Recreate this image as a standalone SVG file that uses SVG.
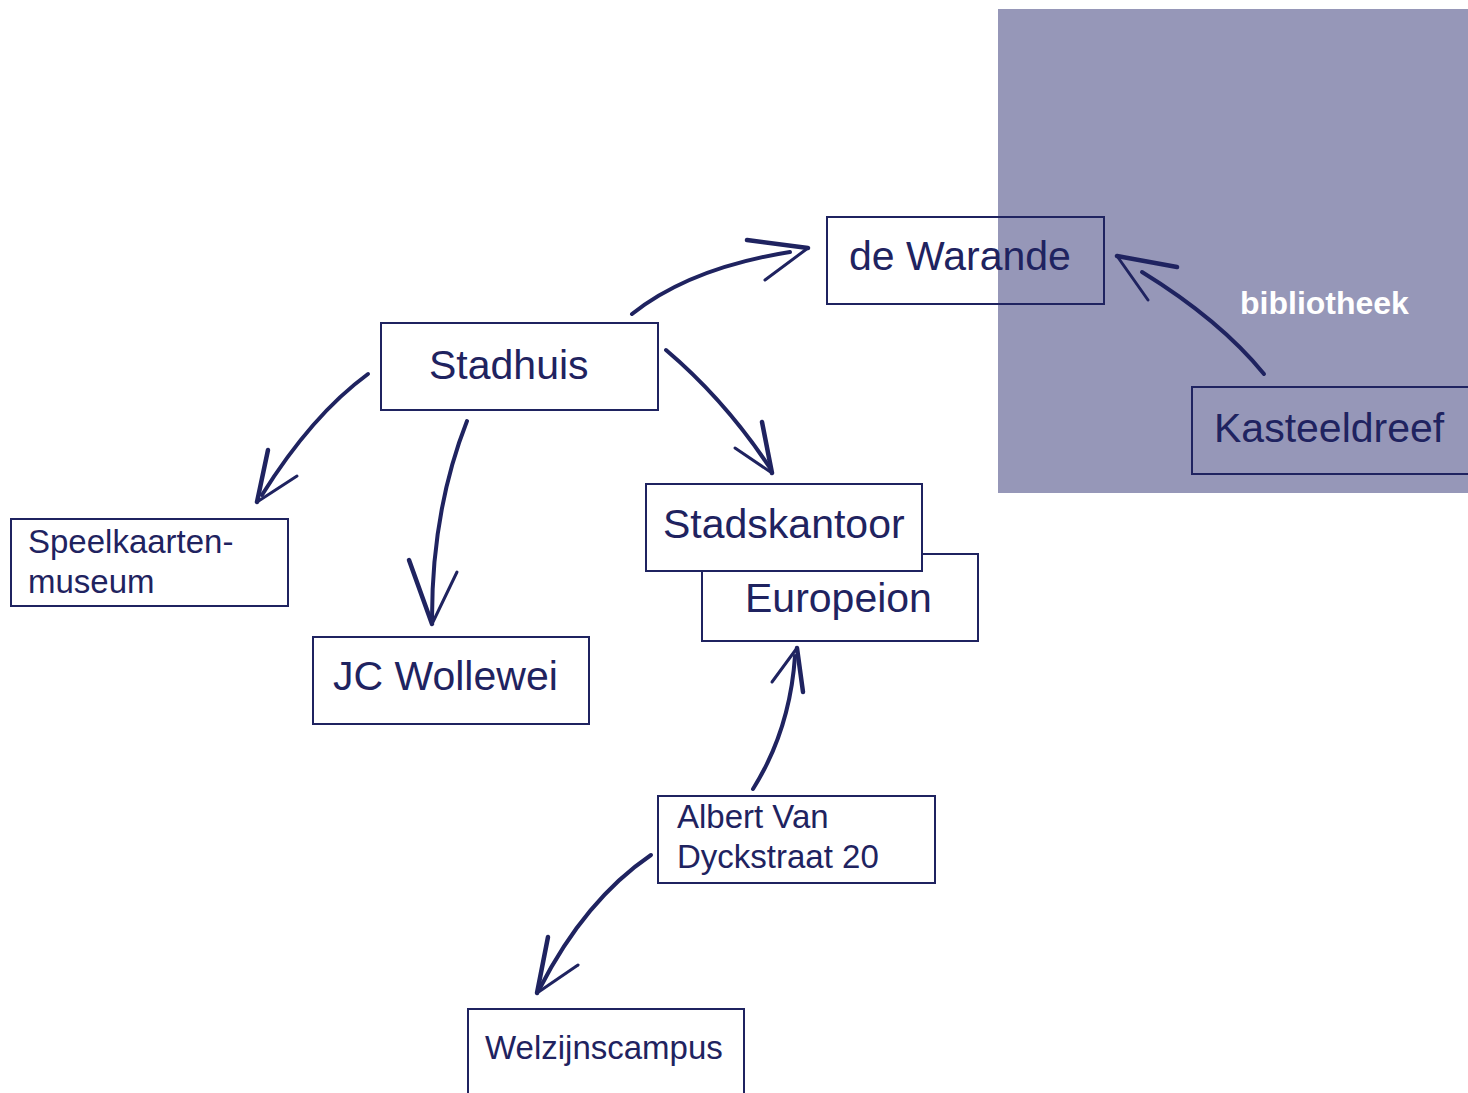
<svg xmlns="http://www.w3.org/2000/svg" width="1468" height="1093" viewBox="0 0 1468 1093">
<style>
.box{fill:none;stroke:#1f2360;stroke-width:2}
.wbox{fill:#ffffff;stroke:#1f2360;stroke-width:2}
.big{font-family:"Liberation Sans",Arial,sans-serif;font-size:41px;fill:#1f2360}
.mid{font-family:"Liberation Sans",Arial,sans-serif;font-size:33px;fill:#1f2360}
.shaft{fill:none;stroke:#1f2360;stroke-width:4;stroke-linecap:round}
.head{fill:none;stroke:#1f2360;stroke-width:3;stroke-linecap:round;stroke-linejoin:round}
.thick{stroke-width:4.5}
</style>
<rect x="0" y="0" width="1468" height="1093" fill="#ffffff"/>
<rect id="bibliotheek-zone" x="998" y="9" width="470" height="484" fill="#9697b8"/>
<text x="1240" y="314" font-family="Liberation Sans,Arial,sans-serif" font-size="32" font-weight="bold" fill="#ffffff">bibliotheek</text>

<g id="connectors">
  <!-- Stadhuis -> de Warande -->
  <path class="shaft" d="M632,314 Q690,268 790,252"/>
  <path class="head thick" d="M747,240 L808,248"/>
  <path class="head" d="M808,248 L765,280"/>
  <!-- Kasteeldreef -> de Warande -->
  <path class="shaft" d="M1264,374 Q1220,320 1142,272"/>
  <path class="head" d="M1148,300 L1117,256"/>
  <path class="head thick" d="M1117,256 L1177,267"/>
  <!-- Stadhuis -> Speelkaartenmuseum -->
  <path class="shaft" d="M368,374 Q312,415 262,495"/>
  <path class="head thick" d="M268,450 L257,502"/>
  <path class="head" d="M257,502 L297,476"/>
  <!-- Stadhuis -> JC Wollewei -->
  <path class="shaft" d="M467,421 Q432,510 432,618"/>
  <path class="head thick" d="M409,560 L432,624"/>
  <path class="head" d="M432,624 L457,572"/>
  <!-- Stadhuis -> Stadskantoor -->
  <path class="shaft" d="M666,350 Q725,400 770,468"/>
  <path class="head thick" d="M762,422 L772,473"/>
  <path class="head" d="M735,448 L772,473"/>
  <!-- Albert Van Dyckstraat -> Europeion -->
  <path class="shaft" d="M753,789 Q790,730 795,656"/>
  <path class="head" d="M772,682 L797,648"/>
  <path class="head thick" d="M797,648 L803,692"/>
  <!-- Albert Van Dyckstraat -> Welzijnscampus -->
  <path class="shaft" d="M651,855 Q585,900 540,988"/>
  <path class="head thick" d="M548,937 L537,993"/>
  <path class="head" d="M537,993 L578,965"/>
</g>

<g id="de-warande">
  <rect class="box" x="827" y="217" width="277" height="87"/>
  <text class="big" x="849" y="270">de Warande</text>
</g>
<g id="stadhuis">
  <rect class="box" x="381" y="323" width="277" height="87"/>
  <text class="big" x="429" y="379">Stadhuis</text>
</g>
<g id="kasteeldreef">
  <rect class="box" x="1192" y="387" width="277" height="87"/>
  <text class="big" x="1214" y="442">Kasteeldreef</text>
</g>
<g id="speelkaartenmuseum">
  <rect class="box" x="11" y="519" width="277" height="87"/>
  <text class="mid" x="28" y="553">Speelkaarten-</text>
  <text class="mid" x="28" y="593">museum</text>
</g>
<g id="jc-wollewei">
  <rect class="box" x="313" y="637" width="276" height="87"/>
  <text class="big" x="333" y="690">JC Wollewei</text>
</g>
<g id="europeion">
  <rect class="wbox" x="702" y="554" width="276" height="87"/>
  <text class="big" x="745" y="612">Europeion</text>
</g>
<g id="stadskantoor">
  <rect class="wbox" x="646" y="484" width="276" height="87"/>
  <text class="big" x="663" y="538">Stadskantoor</text>
</g>
<g id="albert-van-dyckstraat">
  <rect class="box" x="658" y="796" width="277" height="87"/>
  <text class="mid" x="677" y="828">Albert Van</text>
  <text class="mid" x="677" y="868">Dyckstraat 20</text>
</g>
<g id="welzijnscampus">
  <rect class="box" x="468" y="1009" width="276" height="100"/>
  <text class="mid" x="485" y="1059">Welzijnscampus</text>
</g>
</svg>
